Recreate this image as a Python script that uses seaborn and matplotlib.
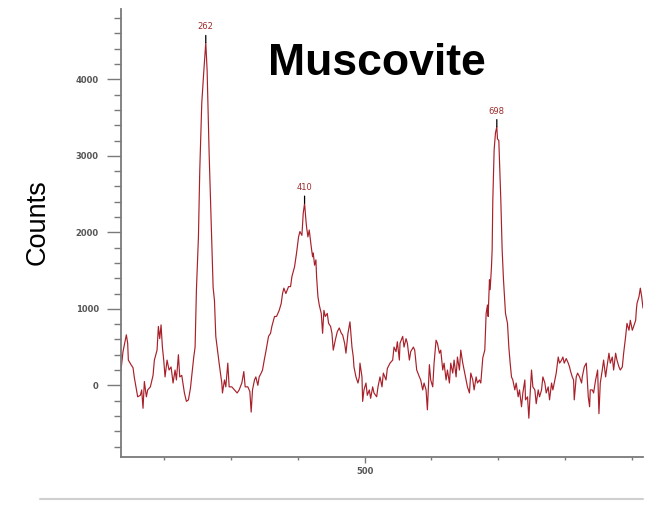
import matplotlib
matplotlib.use("Agg")
import matplotlib.pyplot as plt
import seaborn as sns
import pandas as pd
from matplotlib.lines import Line2D
from matplotlib.ticker import FixedLocator, MultipleLocator

# Raman shift (cm^-1) and measured counts of the muscovite spectrum
shift_cm = [
    135, 138, 143, 145, 146, 150, 153, 155, 160, 164,
    166, 168, 170, 173, 175, 179, 183, 185, 189, 191,
    193, 195, 197, 199, 201, 204, 207, 210, 213, 216,
    218, 221, 223, 226, 230, 233, 236, 239, 242, 244,
    246, 248, 251, 253, 256, 259, 262, 264, 267, 270,
    273, 275, 277, 279, 282, 286, 287, 290, 292, 295,
    297, 301, 305, 309, 312, 316, 319, 321, 325, 328,
    330, 332, 335, 337, 340, 342, 345, 347, 350, 352,
    356, 359, 361, 365, 368, 370, 372, 375, 377, 379,
    382, 386, 389, 391, 395, 398, 401, 403, 406, 408,
    410, 412, 413, 415, 417, 420, 422, 423, 425, 427,
    428, 430, 432, 435, 437, 439, 441, 444, 446, 449,
    451, 453, 456, 459, 462, 465, 467, 470, 472, 475,
    478, 481, 483, 484, 487, 490, 492, 493, 496, 497,
    499, 502, 504, 507, 509, 512, 514, 518, 520, 523,
    526, 528, 532, 534, 538, 542, 544, 547, 549, 552,
    553, 557, 559, 562, 564, 567, 569, 573, 575, 578,
    582, 584, 587, 589, 592, 594, 597, 599, 602, 604,
    607, 609, 612, 614, 617, 619, 622, 624, 627, 629,
    632, 634, 637, 639, 642, 644, 647, 649, 652, 654,
    657, 659, 662, 664, 667, 669, 672, 674, 677, 680,
    682, 684, 685, 687, 688, 690, 691, 692, 694, 696,
    698, 699, 701, 702, 704, 706, 708, 710, 711, 714,
    716, 718, 720, 722, 725, 727, 730, 732, 735, 737,
    740, 741, 744, 746, 748, 750, 752, 755, 757, 760,
    762, 765, 767, 770, 772, 775, 777, 780, 782, 785,
    787, 790, 792, 795, 797, 799, 802, 805, 807, 808,
    811, 813, 814, 817, 819, 822, 825, 826, 829, 832,
    833, 835, 837, 838, 841, 843, 846, 849, 851, 853,
    856, 858, 861, 863, 866, 868, 871, 873, 876, 878,
    881, 883, 886, 888, 891, 893, 896, 898, 901, 903,
    906, 907, 908, 911, 913, 915, 917,
]
counts = [
    200, 440, 660, 550, 330, 270, 230, 100, -150, -130,
    -60, -300, 50, -150, -60, -20, 130, 330, 460, 770,
    610, 790, 500, 330, 110, 330, 200, 240, 30, 200,
    70, 400, 110, 130, -100, -210, -190, -40, 200, 370,
    500, 1250, 1940, 2810, 3690, 4100, 4480, 4120, 3040, 2160,
    1280, 1110, 640, 500, 290, 30, -100, 70, -20, 290,
    -20, -20, -60, -100, -60, 30, 180, -20, -20, -80,
    -350, -60, 70, 110, 0, 110, 160, 200, 350, 440,
    640, 680, 770, 900, 900, 940, 980, 1070, 1200, 1270,
    1200, 1290, 1290, 1420, 1550, 1730, 1940, 2010, 1960, 2250,
    2380, 2160, 2070, 1940, 2030, 1810, 1680, 1730, 1570, 1640,
    1420, 1160, 1050, 940, 680, 980, 900, 940, 810, 770,
    680, 460, 590, 700, 750, 680, 660, 550, 420, 680,
    830, 500, 370, 240, 110, 30, 110, 290, 110, -210,
    -60, 30, -130, -60, -170, -20, -100, -150, -20, 110,
    -20, 160, 70, 220, 290, 330, 500, 440, 570, 330,
    550, 640, 500, 610, 550, 330, 440, 500, 460, 200,
    110, 70, -60, 30, -60, -320, 270, 70, -20, 290,
    590, 550, 420, 460, 200, 290, 70, 200, 30, 290,
    160, 330, 110, 370, 200, 460, 290, 200, 70, -20,
    -100, 160, 70, -60, 110, 30, 70, 30, 360, 460,
    940, 1050, 900, 1380, 1250, 1550, 1770, 2420, 3080, 3300,
    3380, 3220, 3200, 2940, 2420, 1770, 1380, 1100, 940, 810,
    500, 290, 110, 70, -60, 30, -150, -60, -280, -100,
    70, -190, -150, -430, -100, 200, -20, -60, -240, -60,
    -150, -60, 110, 30, -100, -20, -190, 30, -60, 70,
    160, 370, 290, 330, 370, 290, 350, 290, 240, 200,
    110, 70, -190, 110, 160, 110, 30, 110, 240, 290,
    160, -150, -280, -60, -60, -100, 70, 200, -370, 30,
    200, 330, 110, 240, 420, 290, 370, 200, 420, 330,
    240, 200, 240, 420, 640, 810, 720, 850, 720, 770,
    850, 980, 1070, 1160, 1270, 1160, 1010,
]
assert len(shift_cm) == len(counts)

# Labelled band positions
peak_shift = [262, 410, 698]

# Axis ticks
y_major = [0, 1000, 2000, 3000, 4000]
y_major_labels = ["0", "1000", "2000", "3000", "4000"]
x_major = [500]
x_major_labels = ["500"]
x_minor = [200, 300, 400, 600, 700, 800, 900]

sns.set_style("white")
plt.rcParams["font.family"] = ["DejaVu Sans"]

W, H = 654, 505
fig = plt.figure(figsize=(W / 100, H / 100), dpi=100)
ax = fig.add_axes([121 / W, 1 - 456.7 / H, (643 - 121) / W, (456.7 - 9) / H])

df = pd.DataFrame({"shift": shift_cm, "counts": counts})
sns.lineplot(data=df, x="shift", y="counts", ax=ax, color="#a8202a",
             linewidth=0.85, sort=False, estimator=None)

ax.set_xlim(135, 917)
ax.set_ylim(-933, 4919)
ax.set_xlabel("")
ax.set_ylabel("")

sns.despine(ax=ax)
axis_grey = "#7a7a7a"
for side in ("left", "bottom"):
    ax.spines[side].set_color(axis_grey)
    ax.spines[side].set_linewidth(1.3)

ax.yaxis.set_major_locator(FixedLocator(y_major))
ax.set_yticklabels(y_major_labels)
ax.yaxis.set_minor_locator(MultipleLocator(200))
ax.xaxis.set_major_locator(FixedLocator(x_major))
ax.set_xticklabels(x_major_labels)
ax.xaxis.set_minor_locator(FixedLocator(x_minor))

ax.tick_params(which="both", left=True, bottom=True, direction="out",
               width=1, color=axis_grey)
ax.tick_params(axis="y", which="major", length=10, labelsize=6,
               labelcolor="#555555", pad=6)
ax.tick_params(axis="y", which="minor", length=5)
ax.tick_params(axis="x", which="major", length=4.5, labelsize=6,
               labelcolor="#555555", pad=3)
ax.tick_params(axis="x", which="minor", length=2.5)
for lbl in ax.get_yticklabels() + ax.get_xticklabels():
    lbl.set_fontweight("bold")

# Band labels with leader lines
for p in peak_shift:
    top = counts[shift_cm.index(p)]
    ax.annotate(str(p), xy=(p, top), xytext=(0, 8), textcoords="offset points",
                ha="center", va="bottom", fontsize=6, color="#9e2b2b",
                arrowprops=dict(arrowstyle="-", color="black", lw=0.9,
                                shrinkA=0.5, shrinkB=0))

fig.text(377 / W, 1 - 75 / H, "Muscovite", fontsize=32, fontweight="bold",
         color="black", family=["Liberation Sans", "DejaVu Sans"],
         ha="center", va="baseline")
fig.text(38 / W, 1 - 222 / H, "Counts", fontsize=19.5, rotation=90,
         color="black", family=["Liberation Sans", "DejaVu Sans"],
         ha="center", va="center")

fig.add_artist(Line2D([40 / W, 643 / W], [1 - 498.7 / H] * 2,
                      color="#cfcfcf", lw=1.5, transform=fig.transFigure))

fig.savefig("out.png", dpi=100)
